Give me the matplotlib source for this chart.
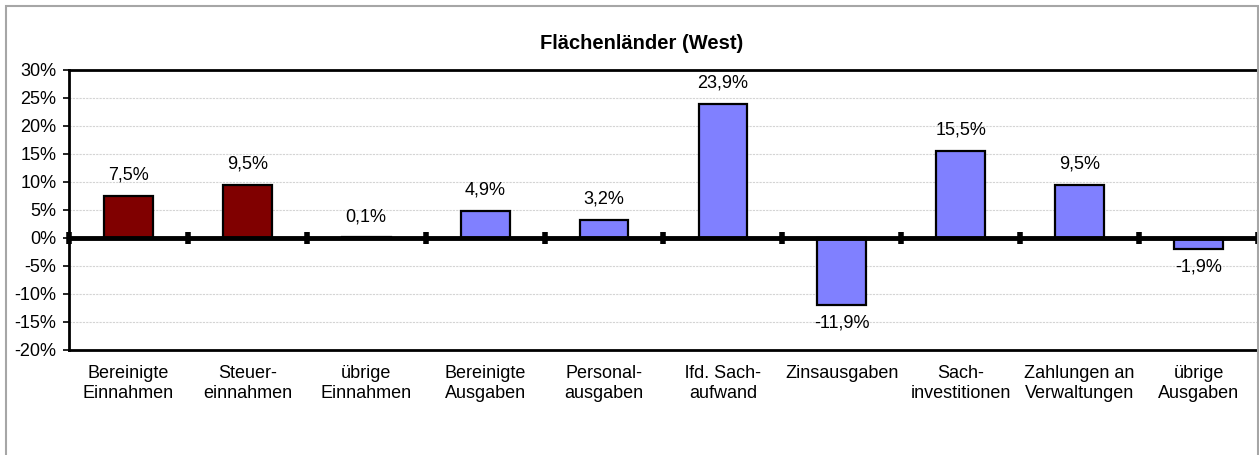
import matplotlib
matplotlib.use("Agg")
import matplotlib.pyplot as plt
from matplotlib.patches import Rectangle
from matplotlib.ticker import FuncFormatter, MultipleLocator

categories = ["Bereinigte\nEinnahmen", "Steuer-\neinnahmen", "übrige\nEinnahmen",
              "Bereinigte\nAusgaben", "Personal-\nausgaben", "lfd. Sach-\naufwand",
              "Zinsausgaben", "Sach-\ninvestitionen", "Zahlungen an\nVerwaltungen",
              "übrige\nAusgaben"]
values = [7.5, 9.5, 0.1, 4.9, 3.2, 23.9, -11.9, 15.5, 9.5, -1.9]
n_income = 3
title = "Flächenländer (West)"

plt.rcParams["font.family"] = ["Liberation Sans", "DejaVu Sans"]

fig = plt.figure(figsize=(12.59, 4.55), dpi=100)
ax = fig.add_axes([0.0548, 0.2308, 0.9444, 0.6154])

# outer chart frame
fig.patches.append(Rectangle((6 / 1259, -0.05), (1252) / 1259, 1.0 - 6 / 455 + 0.05,
                             transform=fig.transFigure, fill=False,
                             edgecolor="#a6a6a6", lw=1.5))

x = list(range(len(values)))
colors = ["#800000"] * n_income + ["#8080FF"] * (len(values) - n_income)
ax.bar(x, values, width=0.41, color=colors, edgecolor="black", linewidth=1.6, zorder=3)

for xi, v in zip(x, values):
    txt = f"{v:.1f}%".replace(".", ",")
    off = 15 if v >= 0 else -13
    ax.annotate(txt, (xi, v), xytext=(0, off), textcoords="offset points",
                ha="center", va="center", fontsize=13)

# zero line with category separators
ax.axhline(0, color="black", lw=3.5, zorder=4)
bounds = [i - 0.5 for i in range(len(values) + 1)]
ax.plot(bounds, [0] * len(bounds), ls="none", marker="|", ms=8, mew=4,
        color="black", zorder=5, clip_on=False)

ax.set_xlim(-0.5, len(values) - 0.5)
ax.set_ylim(-20, 30)
ax.yaxis.set_major_locator(MultipleLocator(5))
ax.yaxis.set_major_formatter(FuncFormatter(lambda v, p: f"{int(round(v))}%"))
ax.grid(axis="y", color="#d4d4d4", ls=(0, (2, 1)), lw=0.8, zorder=0)
ax.set_axisbelow(True)

ax.set_xticks(x)
ax.set_xticklabels(categories, fontsize=13, linespacing=1.2)
ax.tick_params(axis="x", length=0, pad=11)
ax.tick_params(axis="y", length=4, width=1.2, pad=5, labelsize=13)

for side in ["left", "top", "bottom"]:
    ax.spines[side].set_linewidth(2)
ax.spines["right"].set_visible(False)

ax.set_title(title, fontsize=14.5, fontweight="bold", pad=15, x=0.482)

fig.savefig("out.png", dpi=100)
